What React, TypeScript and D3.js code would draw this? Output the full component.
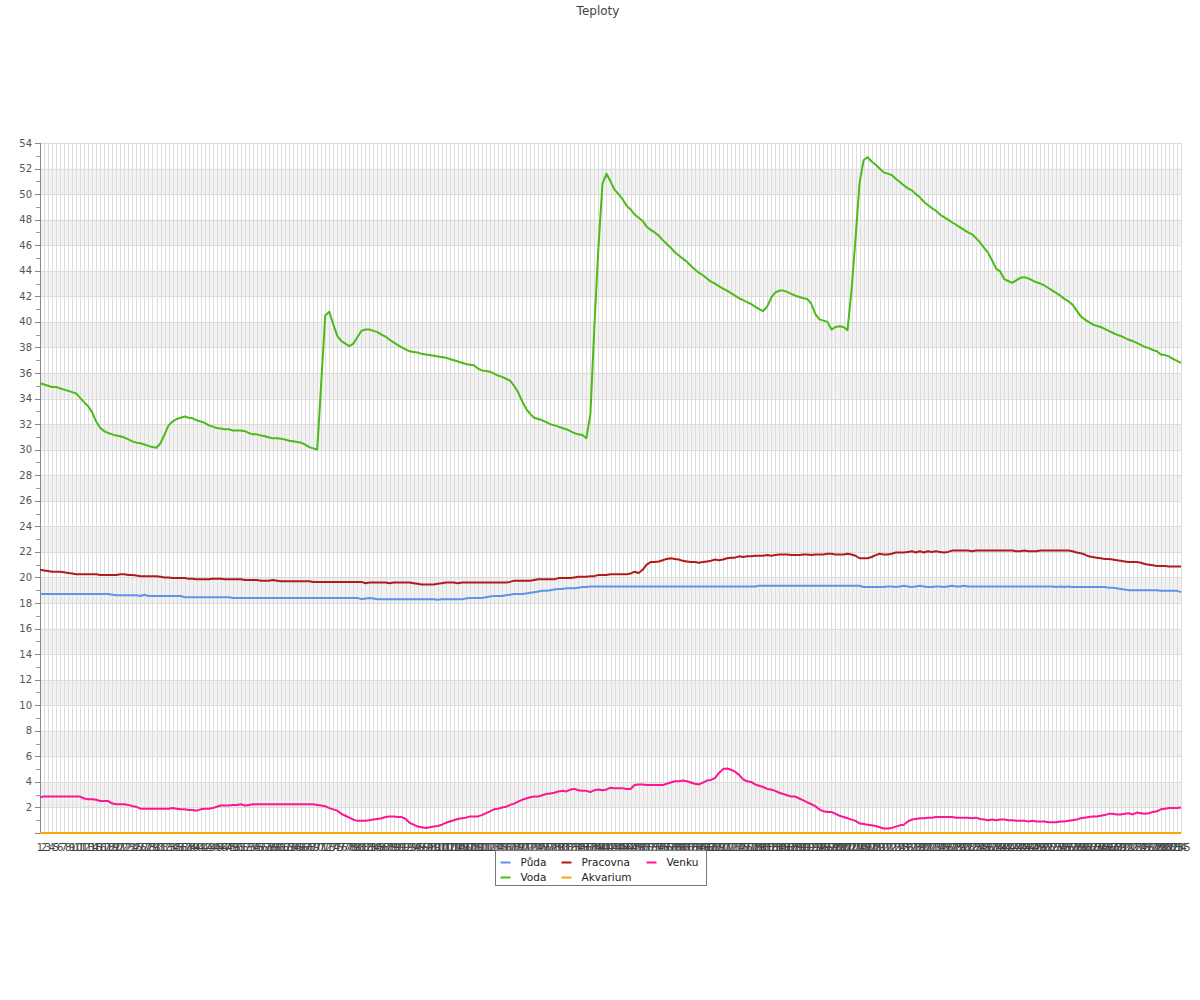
import React from "react";
import * as d3 from "d3";

// ---------- DATA ----------
const categories: string[] = d3.range(1, 286).map((d) => String(d));
const yTicks: number[] = d3.range(0, 55, 2);

const puda: number[] = [
  18.7,18.7,18.7,18.7,18.7,18.7,18.7,18.7,18.7,18.7,
  18.7,18.7,18.7,18.7,18.7,18.7,18.7,18.7,18.65,18.6,
  18.6,18.6,18.6,18.6,18.6,18.55,18.65,18.55,18.55,18.55,
  18.55,18.55,18.55,18.55,18.55,18.55,18.45,18.45,18.45,18.45,
  18.45,18.45,18.45,18.45,18.45,18.45,18.45,18.45,18.4,18.4,
  18.4,18.4,18.4,18.4,18.4,18.4,18.4,18.4,18.4,18.4,
  18.4,18.4,18.4,18.4,18.4,18.4,18.4,18.4,18.4,18.4,
  18.4,18.4,18.4,18.4,18.4,18.4,18.4,18.4,18.4,18.4,
  18.3,18.35,18.4,18.35,18.3,18.3,18.3,18.3,18.3,18.3,
  18.3,18.3,18.3,18.3,18.3,18.3,18.3,18.3,18.3,18.25,
  18.3,18.3,18.3,18.3,18.3,18.3,18.35,18.4,18.4,18.4,
  18.4,18.45,18.5,18.55,18.55,18.55,18.6,18.65,18.7,18.7,
  18.7,18.75,18.8,18.85,18.9,18.95,18.95,19.0,19.05,19.1,
  19.1,19.15,19.15,19.15,19.2,19.25,19.25,19.3,19.3,19.3,
  19.3,19.3,19.3,19.3,19.3,19.3,19.3,19.3,19.3,19.3,
  19.3,19.3,19.3,19.3,19.3,19.3,19.3,19.3,19.3,19.3,
  19.3,19.3,19.3,19.3,19.3,19.3,19.3,19.3,19.3,19.3,
  19.3,19.3,19.3,19.3,19.3,19.3,19.3,19.3,19.3,19.35,
  19.35,19.35,19.35,19.35,19.35,19.35,19.35,19.35,19.35,19.35,
  19.35,19.35,19.35,19.35,19.35,19.35,19.35,19.35,19.35,19.35,
  19.35,19.35,19.35,19.35,19.35,19.25,19.25,19.25,19.25,19.25,
  19.25,19.3,19.3,19.25,19.3,19.35,19.3,19.25,19.3,19.35,
  19.3,19.25,19.25,19.3,19.3,19.25,19.3,19.35,19.3,19.3,
  19.35,19.3,19.3,19.3,19.3,19.3,19.3,19.3,19.3,19.3,
  19.3,19.3,19.3,19.3,19.3,19.3,19.3,19.3,19.3,19.3,
  19.3,19.3,19.3,19.25,19.3,19.25,19.3,19.25,19.25,19.25,
  19.25,19.25,19.25,19.25,19.25,19.25,19.2,19.2,19.15,19.1,
  19.05,19.0,19.0,19.0,19.0,19.0,19.0,19.0,19.0,18.95,
  18.95,18.95,18.95,18.95,18.85,
];

const voda: number[] = [
  35.2,35.1,35.0,34.9,34.9,34.8,34.7,34.6,34.5,34.4,
  34.05,33.7,33.4,32.9,32.2,31.7,31.45,31.3,31.2,31.1,
  31.05,30.95,30.8,30.65,30.55,30.5,30.4,30.3,30.2,30.15,
  30.5,31.2,31.9,32.2,32.4,32.5,32.6,32.5,32.45,32.3,
  32.2,32.1,31.9,31.8,31.7,31.65,31.6,31.6,31.5,31.5,
  31.5,31.45,31.3,31.2,31.2,31.1,31.05,30.95,30.9,30.9,
  30.85,30.8,30.7,30.65,30.6,30.55,30.4,30.2,30.1,30.0,
  35.2,40.5,40.8,39.8,38.9,38.5,38.3,38.1,38.3,38.8,
  39.3,39.4,39.4,39.3,39.2,39.0,38.85,38.6,38.4,38.2,
  38.0,37.85,37.7,37.65,37.6,37.5,37.45,37.4,37.35,37.3,
  37.25,37.2,37.1,37.0,36.9,36.8,36.7,36.65,36.6,36.35,
  36.2,36.15,36.1,35.95,35.8,35.7,35.55,35.4,35.0,34.5,
  33.8,33.2,32.8,32.5,32.4,32.3,32.15,32.0,31.9,31.8,
  31.7,31.6,31.45,31.3,31.2,31.15,30.9,32.8,39.75,45.85,
  50.8,51.6,51.0,50.35,50.0,49.6,49.1,48.8,48.4,48.15,
  47.9,47.45,47.2,47.0,46.75,46.4,46.1,45.8,45.45,45.2,
  44.95,44.7,44.4,44.1,43.85,43.65,43.4,43.15,43.0,42.8,
  42.6,42.45,42.25,42.05,41.85,41.7,41.55,41.4,41.2,41.0,
  40.85,41.2,41.9,42.3,42.45,42.45,42.35,42.2,42.05,41.95,
  41.85,41.8,41.4,40.6,40.2,40.1,40.0,39.4,39.6,39.65,
  39.6,39.35,42.5,46.55,50.9,52.65,52.9,52.55,52.3,52.0,
  51.7,51.6,51.5,51.2,50.95,50.7,50.45,50.3,50.0,49.75,
  49.4,49.15,48.9,48.7,48.4,48.2,48.0,47.8,47.6,47.4,
  47.2,47.0,46.85,46.55,46.2,45.8,45.4,44.8,44.15,43.95,
  43.35,43.2,43.05,43.25,43.45,43.5,43.4,43.25,43.1,43.0,
  42.85,42.65,42.45,42.25,42.05,41.8,41.6,41.35,40.9,40.45,
  40.2,40.0,39.8,39.7,39.6,39.45,39.3,39.15,39.0,38.9,
  38.75,38.6,38.5,38.35,38.2,38.05,37.95,37.8,37.7,37.45,
  37.4,37.3,37.1,36.95,36.8,
];

const pracovna: number[] = [
  20.6,20.55,20.5,20.45,20.45,20.45,20.4,20.35,20.3,20.25,
  20.25,20.25,20.25,20.25,20.25,20.2,20.2,20.2,20.2,20.2,
  20.25,20.25,20.2,20.2,20.15,20.1,20.1,20.1,20.1,20.1,
  20.05,20.0,20.0,19.95,19.95,19.95,19.95,19.9,19.9,19.85,
  19.85,19.85,19.85,19.9,19.9,19.9,19.85,19.85,19.85,19.85,
  19.85,19.8,19.8,19.8,19.8,19.75,19.75,19.75,19.8,19.75,
  19.7,19.7,19.7,19.7,19.7,19.7,19.7,19.7,19.65,19.65,
  19.65,19.65,19.65,19.65,19.65,19.65,19.65,19.65,19.65,19.65,
  19.65,19.55,19.6,19.6,19.6,19.6,19.6,19.55,19.6,19.6,
  19.6,19.6,19.6,19.55,19.5,19.45,19.45,19.45,19.45,19.5,
  19.55,19.6,19.6,19.6,19.55,19.6,19.6,19.6,19.6,19.6,
  19.6,19.6,19.6,19.6,19.6,19.6,19.6,19.65,19.75,19.75,
  19.75,19.75,19.75,19.8,19.85,19.85,19.85,19.85,19.85,19.95,
  19.95,19.95,19.95,20.0,20.05,20.05,20.05,20.1,20.1,20.2,
  20.2,20.2,20.25,20.25,20.25,20.25,20.25,20.3,20.45,20.35,
  20.6,21.0,21.2,21.2,21.25,21.35,21.45,21.5,21.45,21.4,
  21.3,21.25,21.2,21.2,21.15,21.2,21.25,21.3,21.4,21.35,
  21.4,21.5,21.55,21.55,21.65,21.6,21.65,21.65,21.7,21.7,
  21.7,21.75,21.7,21.75,21.8,21.8,21.8,21.75,21.75,21.75,
  21.8,21.8,21.75,21.8,21.8,21.8,21.85,21.85,21.8,21.8,
  21.8,21.85,21.8,21.7,21.5,21.5,21.5,21.6,21.75,21.85,
  21.8,21.8,21.85,21.95,21.95,21.95,22.0,22.05,21.95,22.05,
  21.95,22.05,22.0,22.05,22.0,21.95,22.0,22.1,22.1,22.1,
  22.1,22.1,22.05,22.1,22.1,22.1,22.1,22.1,22.1,22.1,
  22.1,22.1,22.1,22.05,22.05,22.1,22.05,22.05,22.05,22.1,
  22.1,22.1,22.1,22.1,22.1,22.1,22.1,22.05,21.95,21.9,
  21.8,21.65,21.6,21.55,21.5,21.45,21.45,21.4,21.35,21.3,
  21.25,21.2,21.2,21.2,21.15,21.05,21.0,20.95,20.9,20.9,
  20.9,20.85,20.85,20.85,20.85,
];

const akvarium: number[] = [
  0,0,0,0,0,0,0,0,0,0, 0,0,0,0,0,0,0,0,0,0,
  0,0,0,0,0,0,0,0,0,0, 0,0,0,0,0,0,0,0,0,0,
  0,0,0,0,0,0,0,0,0,0, 0,0,0,0,0,0,0,0,0,0,
  0,0,0,0,0,0,0,0,0,0, 0,0,0,0,0,0,0,0,0,0,
  0,0,0,0,0,0,0,0,0,0, 0,0,0,0,0,0,0,0,0,0,
  0,0,0,0,0,0,0,0,0,0, 0,0,0,0,0,0,0,0,0,0,
  0,0,0,0,0,0,0,0,0,0, 0,0,0,0,0,0,0,0,0,0,
  0,0,0,0,0,0,0,0,0,0, 0,0,0,0,0,0,0,0,0,0,
  0,0,0,0,0,0,0,0,0,0, 0,0,0,0,0,0,0,0,0,0,
  0,0,0,0,0,0,0,0,0,0, 0,0,0,0,0,0,0,0,0,0,
  0,0,0,0,0,0,0,0,0,0, 0,0,0,0,0,0,0,0,0,0,
  0,0,0,0,0,0,0,0,0,0, 0,0,0,0,0,0,0,0,0,0,
  0,0,0,0,0,0,0,0,0,0, 0,0,0,0,0,0,0,0,0,0,
  0,0,0,0,0,0,0,0,0,0, 0,0,0,0,0,0,0,0,0,0,
  0,0,0,0,0,
];

const venku: number[] = [
  2.8,2.85,2.85,2.85,2.85,2.85,2.85,2.85,2.85,2.85,
  2.85,2.7,2.65,2.65,2.6,2.5,2.5,2.5,2.3,2.25,
  2.25,2.25,2.2,2.1,2.05,1.9,1.9,1.9,1.9,1.9,
  1.9,1.9,1.9,1.95,1.9,1.85,1.85,1.8,1.8,1.75,
  1.85,1.9,1.9,1.95,2.05,2.15,2.15,2.15,2.2,2.2,
  2.25,2.15,2.2,2.25,2.25,2.25,2.25,2.25,2.25,2.25,
  2.25,2.25,2.25,2.25,2.25,2.25,2.25,2.25,2.25,2.2,
  2.15,2.1,1.95,1.85,1.75,1.5,1.35,1.2,1.05,0.95,
  0.95,0.95,1.0,1.05,1.1,1.15,1.25,1.3,1.3,1.25,
  1.25,1.1,0.8,0.65,0.5,0.45,0.4,0.45,0.5,0.55,
  0.65,0.8,0.9,1.0,1.1,1.15,1.2,1.3,1.3,1.3,
  1.4,1.55,1.7,1.85,1.9,2.0,2.05,2.2,2.3,2.45,
  2.6,2.7,2.8,2.85,2.85,2.95,3.05,3.1,3.15,3.25,
  3.3,3.25,3.4,3.45,3.35,3.3,3.3,3.2,3.35,3.4,
  3.35,3.4,3.55,3.5,3.5,3.5,3.45,3.45,3.75,3.8,
  3.8,3.75,3.75,3.75,3.75,3.75,3.85,3.95,4.05,4.05,
  4.1,4.05,3.95,3.85,3.8,3.95,4.1,4.15,4.3,4.7,
  5.0,5.05,4.95,4.8,4.55,4.2,4.05,4.0,3.8,3.7,
  3.6,3.45,3.4,3.3,3.15,3.05,2.95,2.85,2.85,2.7,
  2.55,2.4,2.25,2.1,1.85,1.7,1.65,1.65,1.5,1.35,
  1.25,1.15,1.05,0.95,0.75,0.7,0.65,0.6,0.55,0.45,
  0.35,0.35,0.4,0.5,0.6,0.65,0.9,1.05,1.1,1.15,
  1.15,1.2,1.2,1.25,1.25,1.25,1.25,1.25,1.2,1.2,
  1.2,1.2,1.15,1.2,1.1,1.05,1.0,1.05,1.0,1.05,
  1.05,1.0,1.0,0.95,0.95,0.95,0.9,0.95,0.9,0.9,
  0.9,0.85,0.85,0.85,0.9,0.9,0.95,1.0,1.05,1.15,
  1.2,1.25,1.3,1.3,1.35,1.4,1.5,1.5,1.45,1.45,
  1.5,1.55,1.45,1.6,1.55,1.5,1.55,1.65,1.7,1.85,
  1.9,1.95,1.95,1.95,2.0,
];

const seriesNames: string[] = ["Půda", "Voda", "Pracovna", "Akvarium", "Venku"];
const seriesColors: string[] = ["#5f93e8", "#4cbb17", "#b01c1c", "#ffa500", "#ff1493"];
const seriesData: number[][] = [puda, voda, pracovna, akvarium, venku];

// ---------- LAYOUT ----------
const W = 1200;
const H = 1000;
const left = 40;
const right = 1181;
const top = 143;
const bottom = 833;
const FONT = "'DejaVu Sans', sans-serif";

export default function App() {
  const x = d3.scaleLinear().domain([0, categories.length - 1]).range([left, right]);
  const y = d3.scaleLinear().domain([0, 54]).range([bottom, top]);
  const line = d3
    .line<number>()
    .x((_, i) => x(i))
    .y((d) => y(d));

  const bands = d3.range(0, 54, 2).filter((v) => (v / 2) % 2 === 1);
  const minorTicks = d3.range(1, 54, 2);

  // legend layout: column-major, 2 rows
  const legendX = 495.5;
  const legendY = 850.5;
  const colX = [0, 61, 146];
  const rowY = [12, 27];

  return (
    <svg width={W} height={H} style={{ display: "block", position: "absolute", left: 0, top: 0 }} fontFamily={FONT}>
      <rect x={0} y={0} width={W} height={H} fill="#fff" />
      <text x={598} y={15} textAnchor="middle" fontSize={12} fill="#444">
        Teploty
      </text>

      {/* split areas */}
      {bands.map((v) => (
        <rect key={"b" + v} x={left} y={y(v + 2)} width={right - left} height={y(v) - y(v + 2)} fill="#f2f2f2" />
      ))}

      {/* vertical grid */}
      {categories.map((c, i) => (
        <line key={"vg" + c} x1={Math.round(x(i)) + 0.5} x2={Math.round(x(i)) + 0.5} y1={top} y2={bottom} stroke="#dddddd" strokeWidth={1} />
      ))}

      {/* horizontal grid */}
      {yTicks.map((t) => (
        <line key={"hg" + t} x1={left} x2={right} y1={Math.round(y(t)) + 0.5} y2={Math.round(y(t)) + 0.5} stroke="#dcdcdc" strokeWidth={1} />
      ))}

      {/* y axis */}
      <line x1={left + 0.5} x2={left + 0.5} y1={top} y2={bottom} stroke="#888" />
      {yTicks.map((t) => (
        <g key={"yt" + t}>
          <line x1={left - 5} x2={left} y1={Math.round(y(t)) + 0.5} y2={Math.round(y(t)) + 0.5} stroke="#888" />
          {t > 0 && (
            <text x={left - 8} y={y(t)} dy="0.35em" textAnchor="end" fontSize={10} fill="#555">
              {t}
            </text>
          )}
        </g>
      ))}
      {minorTicks.map((t) => (
        <line key={"mt" + t} x1={left - 4} x2={left} y1={Math.round(y(t)) + 0.5} y2={Math.round(y(t)) + 0.5} stroke="#999" />
      ))}

      {/* x axis */}
      <line x1={left} x2={right} y1={bottom + 0.5} y2={bottom + 0.5} stroke="#888" />
      {categories.map((c, i) => (
        <text key={"xl" + c} x={x(i)} y={851} textAnchor="middle" fontSize={10} fill="#444">
          {c}
        </text>
      ))}

      {/* series */}
      {seriesData.map((data, k) => (
        <path key={"s" + k} d={line(data) || ""} fill="none" stroke={seriesColors[k]} strokeWidth={2} strokeLinejoin="round" />
      ))}

      {/* legend */}
      <rect x={legendX} y={legendY} width={211} height={35} fill="#fff" stroke="#777" strokeWidth={1} />
      {seriesNames.map((name, k) => {
        const col = Math.floor(k / 2);
        const row = k % 2;
        const lx = legendX + 5 + colX[col];
        const ly = legendY + rowY[row];
        return (
          <g key={"lg" + k}>
            <line x1={lx} x2={lx + 10} y1={ly} y2={ly} stroke={seriesColors[k]} strokeWidth={2} />
            <text x={lx + 20} y={ly + 3.5} fontSize={10.5} fill="#222">
              {name}
            </text>
          </g>
        );
      })}
    </svg>
  );
}
